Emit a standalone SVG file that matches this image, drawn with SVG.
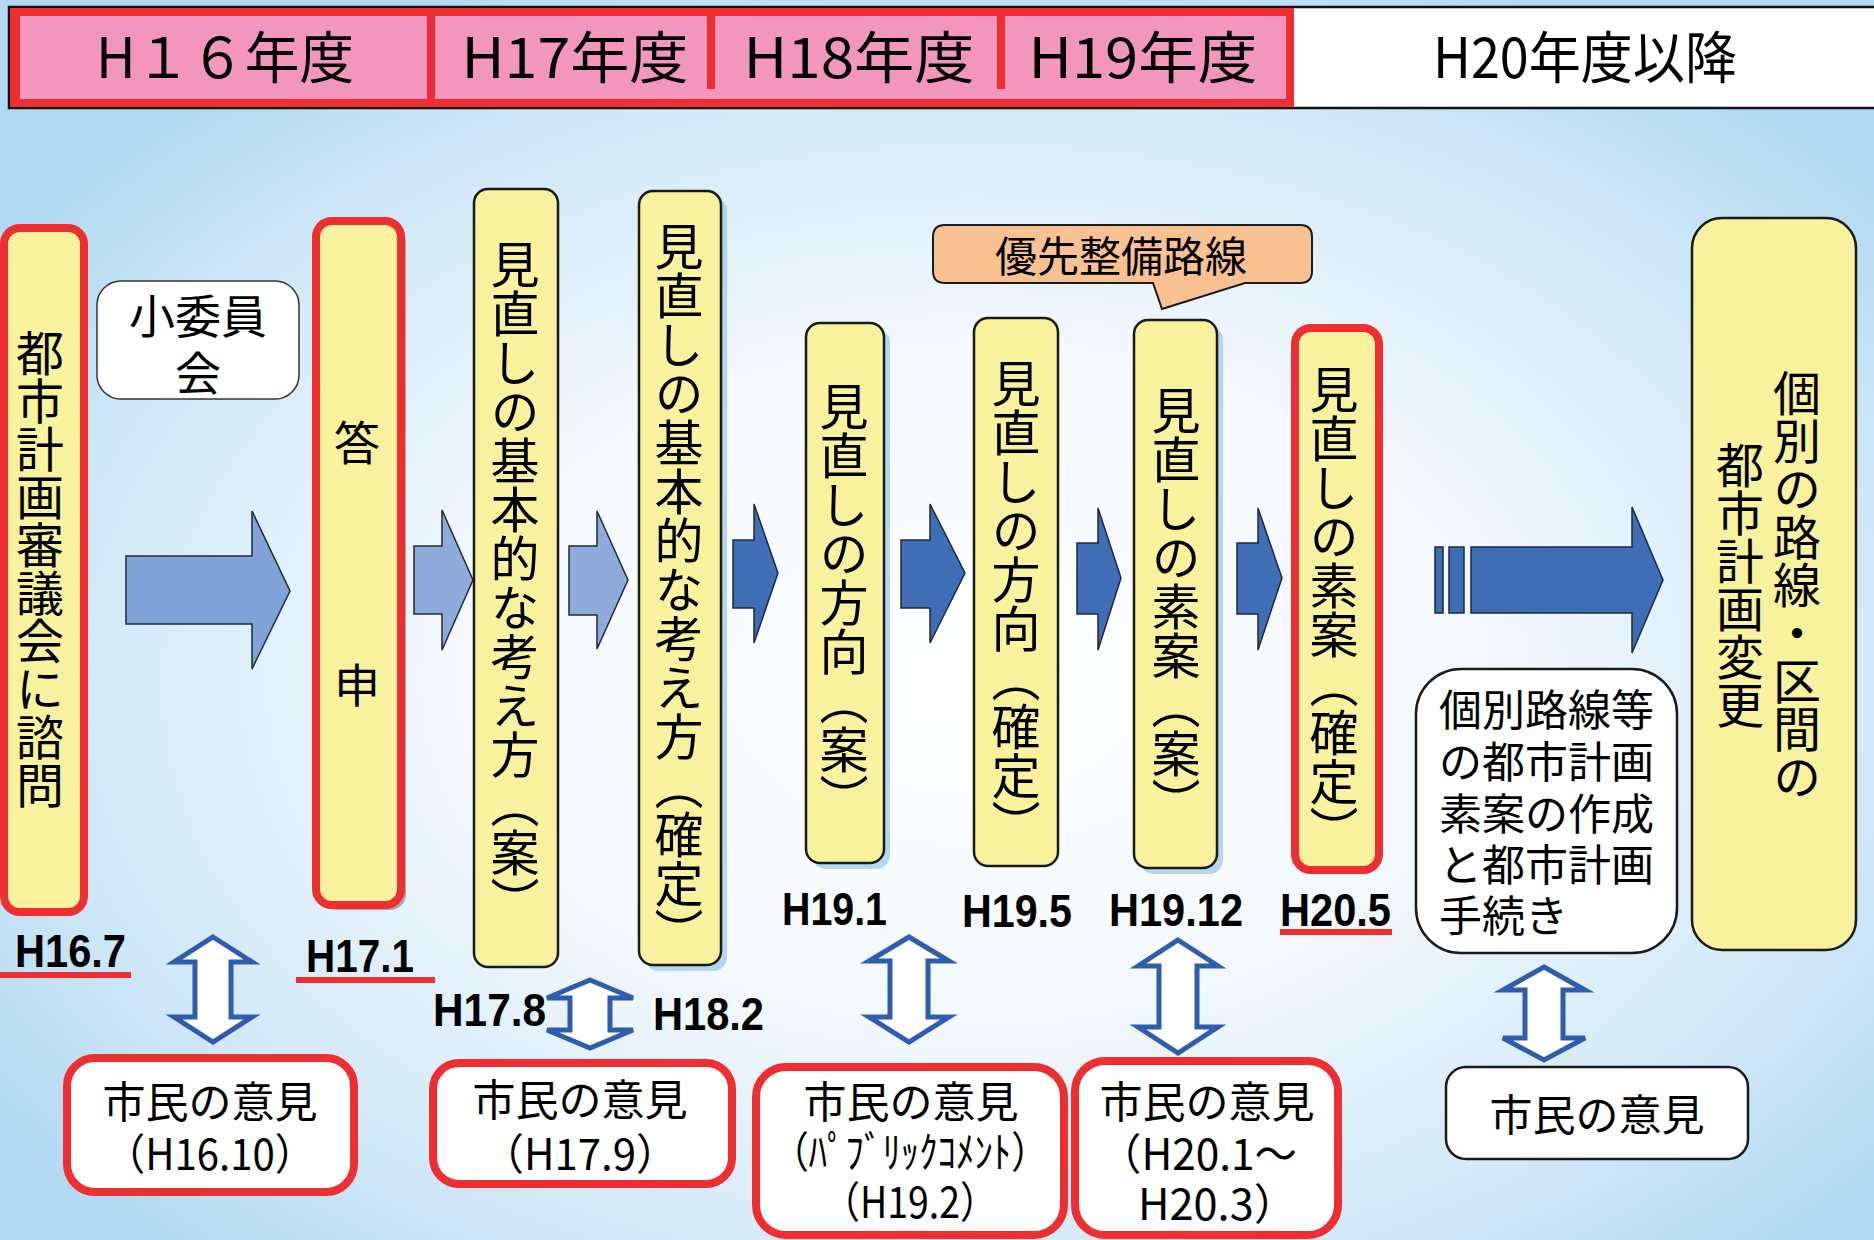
<svg xmlns="http://www.w3.org/2000/svg" width="1874" height="1240" viewBox="0 0 1874 1240">
<defs>
<radialGradient id="bg" cx="0.52" cy="0.55" r="0.62">
<stop offset="0" stop-color="#FFFFFF"/>
<stop offset="0.45" stop-color="#F2F8FD"/>
<stop offset="0.8" stop-color="#CFE8F7"/>
<stop offset="1" stop-color="#B3DAF2"/>
</radialGradient>
<style>
.jp{font-family:'Noto Sans CJK JP',sans-serif;fill:#000}
.v{font-family:'Noto Sans CJK JP',sans-serif;writing-mode:vertical-rl;text-anchor:middle;font-size:48px;fill:#000}
.vp{font-size:49px}
.hd{font-family:'Noto Sans CJK JP',sans-serif;font-size:56px;text-anchor:middle;fill:#000}
.dt{font-family:'Liberation Sans',Arial,sans-serif;font-weight:bold;font-size:46px;fill:#000}
.yb{fill:#F8F19D;stroke:#1A1A1A;stroke-width:2.5}
.yr{fill:#F8F19D;stroke:#EE2E31;stroke-width:8}
.rb{fill:#FFFFFF;stroke:#EE2E31;stroke-width:8}
.wb{fill:#FFFFFF;stroke:#1A1A1A;stroke-width:2.5}
.sh{fill:#9CCBEC;opacity:0.75}
.ul{fill:#EE2E31}
.dbl{fill:#FFFFFF;stroke:#2F5DAE;stroke-width:5;stroke-linejoin:miter}
.a1{fill:#7FA3D6;stroke:#1E2A3A;stroke-width:1.5}
.a2{fill:#8EABDB;stroke:#1E2A3A;stroke-width:1.5}
.a3{fill:#3F6DB6;stroke:#1E2A3A;stroke-width:1.5}
</style>
</defs>
<rect x="0" y="0" width="1874" height="1240" fill="url(#bg)"/>

<g id="header">
<rect x="9" y="7" width="1870" height="101" fill="#FFFFFF" stroke="#111" stroke-width="2.5"/>
<rect x="10" y="8" width="1284" height="99" fill="#EE2E31"/>
<rect x="20" y="16" width="1266" height="83" fill="#F396BE"/>
<rect x="427" y="16" width="8" height="83" fill="#EE2E31"/>
<rect x="707" y="16" width="8" height="73" fill="#EE2E31"/>
<rect x="997" y="16" width="8" height="73" fill="#EE2E31"/>
<text class="hd" x="225" y="78" textLength="258" lengthAdjust="spacingAndGlyphs">H１６年度</text>
<text class="hd" x="575" y="78" textLength="227" lengthAdjust="spacingAndGlyphs">H17年度</text>
<text class="hd" x="859" y="78" textLength="231" lengthAdjust="spacingAndGlyphs">H18年度</text>
<text class="hd" x="1143" y="78" textLength="229" lengthAdjust="spacingAndGlyphs">H19年度</text>
<text class="hd" x="1585" y="78" textLength="304" lengthAdjust="spacingAndGlyphs">H20年度以降</text>
</g>

<g id="connectors">
<polygon class="a1" points="126,556 252,556 252,511 290,591 252,669 252,624 126,624"/>
<polygon class="a2" points="414,546 442,546 442,510 473,580 442,650 442,614 414,614"/>
<polygon class="a2" points="569,546 597,546 597,511 628,580 597,649 597,615 569,615"/>
<polygon class="a3" points="733,540 754,540 754,504 778,573 754,643 754,608 733,608"/>
<polygon class="a3" points="901,540 930,540 930,504 965,573 930,643 930,608 901,608"/>
<polygon class="a3" points="1077,543 1098,543 1098,508 1121,578 1098,650 1098,614 1077,614"/>
<polygon class="a3" points="1237,543 1258,543 1258,508 1282,578 1258,650 1258,614 1237,614"/>
<rect class="a3" x="1435" y="547" width="8" height="66"/>
<rect class="a3" x="1449" y="547" width="15" height="66"/>
<polygon class="a3" points="1471,547 1632,547 1632,507 1663,580 1632,653 1632,613 1471,613"/>
<polygon class="dbl" points="213,937 252,962 231,962 231,1017 252,1017 213,1042 174,1017 195,1017 195,962 174,962"/>
<polygon class="dbl" points="590,980 633,998 610,998 610,1030 633,1030 590,1048 547,1030 570,1030 570,998 547,998"/>
<polygon class="dbl" points="909,937 949,961 928,961 928,1017 949,1017 909,1042 869,1017 890,1017 890,961 869,961"/>
<polygon class="dbl" points="1178,940 1218,966 1197,966 1197,1027 1218,1027 1178,1053 1138,1027 1159,1027 1159,966 1138,966"/>
<polygon class="dbl" points="1544,967 1585,990 1563,990 1563,1038 1585,1038 1544,1060 1503,1038 1525,1038 1525,990 1503,990"/>
</g>

<g id="node-shingikai">
<rect class="yr" x="4" y="228" width="80" height="684" rx="16"/>
<text class="v" x="40" y="569">都市計画審議会に諮問</text>
</g>

<g id="node-shoiinkai">
<rect x="97" y="281" width="202" height="118" rx="24" fill="#FFFFFF" stroke="#333" stroke-width="1.5"/>
<text class="jp" x="198" y="333" font-size="46" text-anchor="middle">小委員</text>
<text class="jp" x="198" y="390" font-size="46" text-anchor="middle">会</text>
</g>

<g id="node-toshin">
<rect x="321" y="226" width="85" height="684" rx="16" fill="#7A7A7A" opacity="0.6"/>
<rect class="yr" x="316" y="221" width="85" height="684" rx="16"/>
<text class="jp" x="357" y="460" font-size="46" text-anchor="middle">答</text>
<text class="jp" x="357" y="702" font-size="46" text-anchor="middle">申</text>
</g>

<g id="node-kihon-an">
<rect class="yb" x="474" y="189" width="84" height="778" rx="14"/>
<text class="v vp" x="515" y="583">見直しの基本的な考え方（案）</text>
</g>

<g id="node-kihon-kakutei">
<rect class="sh" x="645" y="197" width="82" height="774" rx="14"/>
<rect class="yb" x="639" y="191" width="82" height="774" rx="14"/>
<text class="v vp" x="679" y="589">見直しの基本的な考え方（確定）</text>
</g>

<g id="node-hoko-an">
<rect class="sh" x="812" y="329" width="78" height="540" rx="14"/>
<rect class="yb" x="806" y="323" width="78" height="540" rx="14"/>
<text class="v vp" x="844" y="602">見直しの方向（案）</text>
</g>

<g id="node-hoko-kakutei">
<rect class="yb" x="974" y="318" width="84" height="548" rx="14"/>
<text class="v vp" x="1016" y="604">見直しの方向（確定）</text>
</g>

<g id="node-yusen">
<path d="M945,225 H1300 Q1312,225 1312,237 V271 Q1312,283 1300,283 H1245 L1162,309 L1153,283 H945 Q933,283 933,271 V237 Q933,225 945,225 Z" fill="#F9C192" stroke="#1A1A1A" stroke-width="2"/>
<text class="jp" x="1121" y="272" font-size="42" text-anchor="middle">優先整備路線</text>
</g>

<g id="node-soan-an">
<rect class="sh" x="1140" y="326" width="83" height="548" rx="14"/>
<rect class="yb" x="1134" y="320" width="83" height="548" rx="14"/>
<text class="v vp" x="1176" y="606">見直しの素案（案）</text>
</g>

<g id="node-soan-kakutei">
<rect class="yr" x="1295" y="328" width="84" height="542" rx="16"/>
<text class="v vp" x="1334" y="610">見直しの素案（確定）</text>
</g>

<g id="node-kobetsu-sakusei">
<rect class="wb" x="1416" y="669" width="261" height="284" rx="45"/>
<g class="jp" font-size="43">
<text x="1439" y="726">個別路線等</text>
<text x="1439" y="778">の都市計画</text>
<text x="1439" y="830">素案の作成</text>
<text x="1439" y="881">と都市計画</text>
<text x="1439" y="932">手続き</text>
</g>
</g>

<g id="node-toshikeikaku-henko">
<rect class="yb" x="1692" y="218" width="164" height="732" rx="30"/>
<text class="v" x="1797" y="585">個別の路線・区間の</text>
<text class="v" x="1740" y="585">都市計画変更</text>
</g>

<g id="dates">
<text class="dt" x="15" y="967" textLength="111" lengthAdjust="spacingAndGlyphs">H16.7</text>
<rect class="ul" x="0" y="972" width="131" height="6"/>
<text class="dt" x="306" y="972" textLength="108" lengthAdjust="spacingAndGlyphs">H17.1</text>
<rect class="ul" x="296" y="977" width="139" height="6"/>
<text class="dt" x="433" y="1026" textLength="113" lengthAdjust="spacingAndGlyphs">H17.8</text>
<text class="dt" x="653" y="1030" textLength="111" lengthAdjust="spacingAndGlyphs">H18.2</text>
<text class="dt" x="782" y="925" textLength="105" lengthAdjust="spacingAndGlyphs">H19.1</text>
<text class="dt" x="962" y="927" textLength="110" lengthAdjust="spacingAndGlyphs">H19.5</text>
<text class="dt" x="1109" y="926" textLength="134" lengthAdjust="spacingAndGlyphs">H19.12</text>
<text class="dt" x="1280" y="926" textLength="111" lengthAdjust="spacingAndGlyphs">H20.5</text>
<rect class="ul" x="1280" y="929" width="112" height="6"/>
</g>

<g id="node-iken-1">
<rect class="rb" x="67" y="1058" width="287" height="134" rx="28"/>
<text class="jp" x="210" y="1118" font-size="43" text-anchor="middle">市民の意見</text>
<text class="jp" x="210" y="1170" font-size="43" text-anchor="middle" textLength="210" lengthAdjust="spacingAndGlyphs">（H16.10）</text>
</g>

<g id="node-iken-2">
<rect class="rb" x="433" y="1063" width="299" height="121" rx="26"/>
<text class="jp" x="580" y="1116" font-size="43" text-anchor="middle">市民の意見</text>
<text class="jp" x="580" y="1170" font-size="43" text-anchor="middle" textLength="196" lengthAdjust="spacingAndGlyphs">（H17.9）</text>
</g>

<g id="node-iken-3">
<rect class="rb" x="756" y="1067" width="308" height="168" rx="30"/>
<text class="jp" x="911" y="1118" font-size="43" text-anchor="middle">市民の意見</text>
<text class="jp" x="910" y="1168" font-size="43" text-anchor="middle" textLength="276" lengthAdjust="spacingAndGlyphs">（ﾊﾟﾌﾞﾘｯｸｺﾒﾝﾄ）</text>
<text class="jp" x="910" y="1218" font-size="43" text-anchor="middle" textLength="175" lengthAdjust="spacingAndGlyphs">（H19.2）</text>
</g>

<g id="node-iken-4">
<rect class="rb" x="1075" y="1061" width="263" height="174" rx="30"/>
<text class="jp" x="1207" y="1118" font-size="43" text-anchor="middle">市民の意見</text>
<text class="jp" x="1099" y="1170" font-size="43" textLength="198" lengthAdjust="spacingAndGlyphs">（H20.1～</text>
<text class="jp" x="1138" y="1220" font-size="43" textLength="159" lengthAdjust="spacingAndGlyphs">H20.3）</text>
</g>

<g id="node-iken-5">
<rect class="wb" x="1446" y="1067" width="302" height="92" rx="20"/>
<text class="jp" x="1597" y="1131" font-size="43" text-anchor="middle">市民の意見</text>
</g>
</svg>
